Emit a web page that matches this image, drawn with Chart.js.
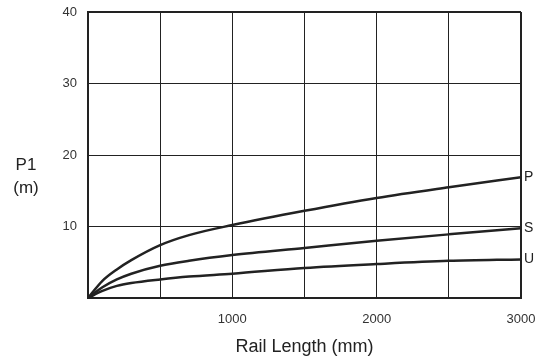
<!DOCTYPE html>
<html>
<head>
    <title>P1 vs Rail Length</title>
    <script src="https://cdn.jsdelivr.net/npm/chart.js"></script>
    <style>
        body { margin: 0; background: #fff; }
        #wrap { width: 536px; height: 362px; }
    </style>
</head>
<body>
    <div id="wrap"><canvas id="myChart" width="536" height="362"></canvas></div>

    <script>
        // Values
        const railLength = [0, 100, 200, 300, 500, 700, 1000, 1500, 2000, 2500, 3000];
        const seriesP = [0, 2.4, 4.0, 5.3, 7.4, 8.8, 10.2, 12.2, 14.0, 15.5, 16.9];
        const seriesS = [0, 1.5, 2.6, 3.4, 4.5, 5.2, 6.0, 7.0, 8.0, 8.9, 9.75];
        const seriesU = [0, 1.0, 1.7, 2.1, 2.6, 3.0, 3.4, 4.2, 4.75, 5.2, 5.4];
        const seriesNames = ['P', 'S', 'U'];
        const xTickLabels = [1000, 2000, 3000];
        const yTickLabels = [10, 20, 30, 40];

        const ink = '#222';
        const font = 'Liberation Sans';

        function toPoints(ys) {
            return ys.map((y, i) => ({ x: railLength[i], y: y }));
        }

        const lineStyle = {
            borderColor: ink,
            borderWidth: 2.5,
            pointRadius: 0,
            cubicInterpolationMode: 'monotone',
            fill: false
        };

        // draws P / S / U next to line ends and the left axis title
        const sideText = {
            id: 'sideText',
            afterDraw(chart) {
                const ctx = chart.ctx;
                const xs = chart.scales.x;
                const ys = chart.scales.y;
                ctx.save();
                ctx.fillStyle = ink;
                ctx.font = '14px "' + font + '"';
                ctx.textBaseline = 'middle';
                ctx.textAlign = 'left';
                chart.data.datasets.forEach(ds => {
                    const last = ds.data[ds.data.length - 1];
                    ctx.fillText(ds.label, xs.getPixelForValue(last.x) + 3, ys.getPixelForValue(last.y));
                });
                ctx.font = '17px "' + font + '"';
                ctx.textAlign = 'center';
                ctx.fillText('P1', 26, 165);
                ctx.fillText('(m)', 26, 188);
                ctx.restore();
            }
        };

        const ctx = document.getElementById('myChart').getContext('2d');
        const myChart = new Chart(ctx, {
            type: 'line',
            data: {
                datasets: [
                    Object.assign({ label: seriesNames[0], data: toPoints(seriesP) }, lineStyle),
                    Object.assign({ label: seriesNames[1], data: toPoints(seriesS) }, lineStyle),
                    Object.assign({ label: seriesNames[2], data: toPoints(seriesU) }, lineStyle)
                ]
            },
            options: {
                responsive: false,
                animation: false,
                layout: { padding: { top: 12, right: 15, left: 0, bottom: 0 } },
                plugins: {
                    legend: { display: false },
                    tooltip: { enabled: false }
                },
                scales: {
                    x: {
                        type: 'linear',
                        min: 0,
                        max: 3000,
                        afterFit: s => {
                            s.height = 64;
                            s.paddingLeft = 0;
                            s.paddingRight = 0;
                        },
                        border: { color: ink, width: 2 },
                        grid: {
                            color: ink,
                            drawTicks: false,
                            lineWidth: c => (c.tick && c.tick.value === 3000 ? 2 : 1)
                        },
                        ticks: {
                            stepSize: 500,
                            padding: 14,
                            color: '#333',
                            font: { family: font, size: 13 },
                            maxRotation: 0,
                            autoSkip: false,
                            callback: v => (xTickLabels.includes(v) ? String(v) : '')
                        },
                        title: {
                            display: true,
                            text: 'Rail Length (mm)',
                            color: ink,
                            font: { family: font, size: 18 },
                            padding: { top: 10 }
                        }
                    },
                    y: {
                        min: 0,
                        max: 40,
                        afterFit: s => {
                            s.width = 88;
                            s.paddingTop = 0;
                            s.paddingBottom = 0;
                        },
                        border: { color: ink, width: 2 },
                        grid: {
                            color: ink,
                            drawTicks: false,
                            lineWidth: c => (c.tick && c.tick.value === 40 ? 2 : 1)
                        },
                        ticks: {
                            stepSize: 10,
                            padding: 11,
                            color: '#333',
                            font: { family: font, size: 13 },
                            callback: v => (yTickLabels.includes(v) ? String(v) : '')
                        }
                    }
                }
            },
            plugins: [sideText]
        });
    </script>
</body>
</html>
